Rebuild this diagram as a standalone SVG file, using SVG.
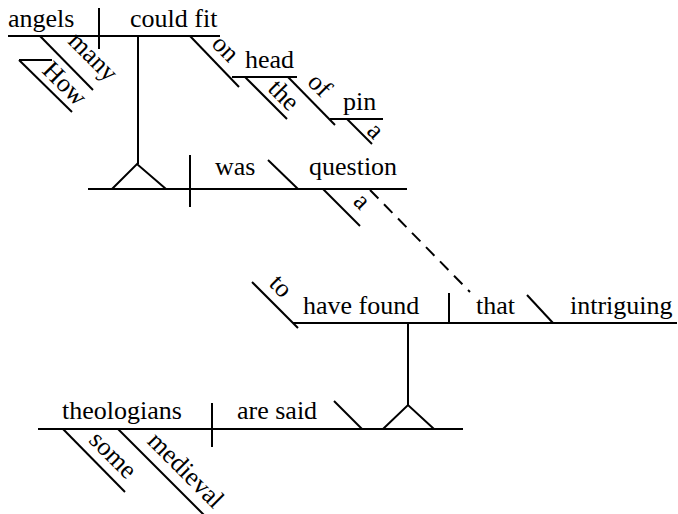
<svg xmlns="http://www.w3.org/2000/svg" width="678" height="514" viewBox="0 0 678 514" font-family="Liberation Serif, Times New Roman, serif">
<style>
text{font-family:"Liberation Serif","Times New Roman",serif;font-size:26px;fill:#000}
.r{text-anchor:middle}
line,polyline{stroke:#000;stroke-width:2;fill:none}
.d{stroke-dasharray:12 8}
</style>
<rect width="678" height="514" fill="#fff"/>
<g id="connectors">
<line x1="138" y1="36" x2="138" y2="164"/>
<line x1="408" y1="323" x2="408" y2="405"/>
<line class="d" x1="370" y1="190" x2="470" y2="292"/>
</g>
<g id="clause-angels">
<line x1="8" y1="36" x2="220" y2="36"/>
<line x1="99" y1="8" x2="99" y2="49"/>
<text x="8" y="27">angels</text>
<text x="130" y="27">could fit</text>
</g>
<g id="many">
<line x1="40" y1="36" x2="93" y2="90"/>
<text class="r" transform="translate(89.5,60.5) rotate(45)" y="3">many</text>
</g>
<g id="how">
<line x1="19" y1="60" x2="52" y2="60"/>
<line x1="19" y1="60" x2="72" y2="112"/>
<text class="r" transform="translate(65,83.5) rotate(45)" y="8.5">How</text>
</g>
<g id="on-head">
<line x1="190" y1="36" x2="239" y2="87"/>
<line x1="232" y1="77" x2="297" y2="77"/>
<text class="r" transform="translate(224,50) rotate(45)" y="6">on</text>
<text x="245" y="68">head</text>
</g>
<g id="the">
<line x1="245" y1="77" x2="287" y2="119"/>
<text class="r" transform="translate(284,95) rotate(45)" y="8.5">the</text>
</g>
<g id="of-pin">
<line x1="288" y1="77" x2="335" y2="125"/>
<line x1="330" y1="119" x2="383" y2="119"/>
<text class="r" transform="translate(320,85) rotate(45)" y="8.5">of</text>
<text x="343" y="110">pin</text>
</g>
<g id="a-pin">
<line x1="347" y1="119" x2="372" y2="144"/>
<text class="r" transform="translate(374,132) rotate(45)" y="6">a</text>
</g>
<g id="clause-question">
<line x1="88" y1="189" x2="407" y2="189"/>
<polyline points="112,189 137,164 166,189"/>
<line x1="190" y1="155" x2="190" y2="207"/>
<line x1="268" y1="160" x2="298" y2="189"/>
<text x="215" y="175">was</text>
<text x="309" y="175">question</text>
</g>
<g id="a-question">
<line x1="323" y1="189" x2="360" y2="226"/>
<text class="r" transform="translate(360.5,202.5) rotate(45)" y="6">a</text>
</g>
<g id="clause-have-found">
<line x1="293" y1="323" x2="677" y2="323"/>
<line x1="252" y1="282" x2="298" y2="328"/>
<line x1="449" y1="293" x2="449" y2="323"/>
<line x1="527" y1="295" x2="553" y2="323"/>
<text class="r" transform="translate(280,287) rotate(45)" y="7">to</text>
<text x="303" y="314">have found</text>
<text x="476" y="314">that</text>
<text x="570" y="314">intriguing</text>
</g>
<g id="clause-theologians">
<line x1="38" y1="429" x2="463" y2="429"/>
<line x1="212" y1="403" x2="212" y2="447"/>
<line x1="334" y1="401" x2="362" y2="429"/>
<polyline points="383,429 408,405 434,429"/>
<text x="62" y="419">theologians</text>
<text x="237" y="419">are said</text>
</g>
<g id="some">
<line x1="63" y1="429" x2="125" y2="492"/>
<text class="r" transform="translate(111.5,456.5) rotate(45)" y="6">some</text>
</g>
<g id="medieval">
<line x1="118" y1="429" x2="204" y2="515"/>
<text class="r" transform="translate(186,470) rotate(45)" y="8.5">medieval</text>
</g>
</svg>
